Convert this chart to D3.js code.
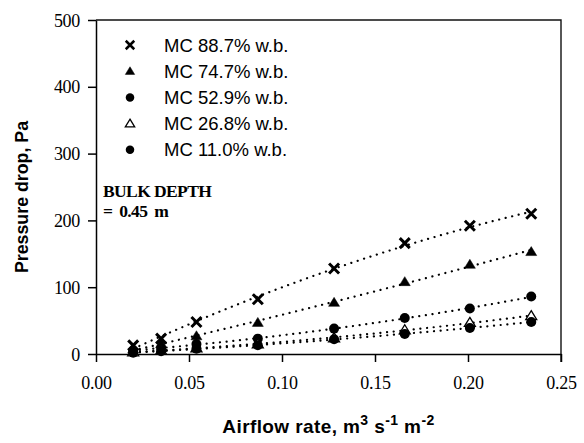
<!DOCTYPE html>
<html>
<head>
<meta charset="utf-8">
<script src="https://cdn.jsdelivr.net/npm/d3@7/dist/d3.min.js"></script>
<style>
  html, body { margin: 0; padding: 0; background: #fff; }
  svg { display: block; }
</style>
</head>
<body>
<svg id="chart" width="584" height="443"></svg>
<script>
// Airflow rate (m3 s-1 m-2) at which pressure drop was measured
const airflow = [0.020, 0.035, 0.054, 0.087, 0.128, 0.166, 0.201, 0.234];

// Pressure drop (Pa) for each moisture content
const mc887 = [13, 23, 48, 82, 128, 166, 192, 210];
const mc747 = [7, 15, 27, 47, 77, 108, 134, 153];
const mc529 = [5, 9, 15, 23, 38, 54, 68, 86];
const mc268 = [3, 5, 9, 15, 24, 36, 47, 57];
const mc110 = [2, 4, 8, 13, 22, 30, 39, 48];

const seriesNames = ["MC 88.7% w.b.", "MC 74.7% w.b.", "MC 52.9% w.b.", "MC 26.8% w.b.", "MC 11.0% w.b."];
const seriesValues = [mc887, mc747, mc529, mc268, mc110];
const seriesSymbols = ["cross", "triFilled", "circle", "triOpen", "circle"];

const xTicks = [0.00, 0.05, 0.10, 0.15, 0.20, 0.25];
const yTicks = [0, 100, 200, 300, 400, 500];

const svg = d3.select("#chart");
const mLeft = 96, mRight = 561, mTop = 20, mBottom = 354;

const x = d3.scaleLinear().domain([0, 0.25]).range([mLeft, mRight]);
const y = d3.scaleLinear().domain([0, 500]).range([mBottom, mTop]);

const serif = "'Times New Roman', 'Liberation Serif', serif";
const sans = "Arial, 'Liberation Sans', sans-serif";

// Frame: top and right edges
svg.append("path")
  .attr("d", `M${mLeft},${mTop}H${mRight}V${mBottom + 8}`)
  .attr("fill", "none").attr("stroke", "#111").attr("stroke-width", 1.4);

// Axes
const xAxis = svg.append("g")
  .attr("transform", `translate(0,${mBottom})`)
  .call(d3.axisBottom(x).tickValues(xTicks).tickFormat(d3.format(".2f")).tickSize(8).tickSizeOuter(0));
const yAxis = svg.append("g")
  .attr("transform", `translate(${mLeft},0)`)
  .call(d3.axisLeft(y).tickValues(yTicks).tickFormat(d3.format("d")).tickSize(8).tickSizeOuter(0));

[xAxis, yAxis].forEach(g => {
  g.select(".domain").attr("stroke", "#000").attr("stroke-width", 1.5);
  g.selectAll(".tick line").attr("stroke", "#000").attr("stroke-width", 1.5);
  g.selectAll(".tick text")
    .attr("fill", "#000")
    .style("font-family", serif)
    .style("font-size", "18px")
    .style("letter-spacing", "-0.3px");
});
xAxis.selectAll(".tick text").attr("y", 35).attr("dy", null);
yAxis.selectAll(".tick text").attr("x", -16).attr("dy", "0.34em");

// Least-squares quadratic trend for each series
function quadFit(xs, ys) {
  const s = [0, 0, 0, 0, 0], t = [0, 0, 0];
  xs.forEach((xi, i) => {
    for (let k = 0; k < 5; k++) s[k] += xi ** k;
    for (let k = 0; k < 3; k++) t[k] += ys[i] * xi ** k;
  });
  const m = [
    [s[0], s[1], s[2], t[0]],
    [s[1], s[2], s[3], t[1]],
    [s[2], s[3], s[4], t[2]]
  ];
  for (let c = 0; c < 3; c++) {
    let p = c;
    for (let r = c + 1; r < 3; r++) if (Math.abs(m[r][c]) > Math.abs(m[p][c])) p = r;
    [m[c], m[p]] = [m[p], m[c]];
    for (let r = 0; r < 3; r++) {
      if (r === c) continue;
      const f = m[r][c] / m[c][c];
      for (let k = c; k < 4; k++) m[r][k] -= f * m[c][k];
    }
  }
  const coef = m.map((row, i) => row[3] / row[i]);
  return v => coef[0] + coef[1] * v + coef[2] * v * v;
}

const plot = svg.append("g");
const trend = d3.line().x(d => x(d[0])).y(d => y(d[1]));

seriesValues.forEach(vals => {
  const f = quadFit(airflow, vals);
  const x0 = d3.min(airflow), x1 = d3.max(airflow);
  const pts = d3.range(0, 41).map(k => {
    const v = x0 + (x1 - x0) * k / 40;
    return [v, f(v)];
  });
  plot.append("path")
    .attr("d", trend(pts))
    .attr("fill", "none")
    .attr("stroke", "#000")
    .attr("stroke-width", 2.2)
    .attr("stroke-linecap", "round")
    .attr("stroke-dasharray", "0.1,6.6");
});

function drawSymbol(g, type, cx, cy, s) {
  if (type === "cross") {
    const h = s / 2;
    g.append("path")
      .attr("d", `M${cx - h},${cy - h}L${cx + h},${cy + h}M${cx - h},${cy + h}L${cx + h},${cy - h}`)
      .attr("stroke", "#000").attr("stroke-width", s * 0.3).attr("fill", "none");
  } else if (type === "circle") {
    g.append("circle").attr("cx", cx).attr("cy", cy).attr("r", s / 2).attr("fill", "#000");
  } else {
    const h = s * 0.9;
    const w = s * 0.55;
    const d = `M${cx},${cy - h * 0.58}L${cx + w},${cy + h * 0.42}L${cx - w},${cy + h * 0.42}Z`;
    g.append("path").attr("d", d)
      .attr("fill", type === "triFilled" ? "#000" : "#fff")
      .attr("stroke", "#000")
      .attr("stroke-width", type === "triFilled" ? 0.5 : 1.3);
  }
}

seriesValues.forEach((vals, si) => {
  const g = plot.append("g");
  vals.forEach((v, i) => drawSymbol(g, seriesSymbols[si], x(airflow[i]), y(v), 10));
});

// Legend
const legend = svg.append("g");
seriesNames.forEach((name, i) => {
  const cy = 45 + i * 26.2;
  drawSymbol(legend, seriesSymbols[i], 130, cy, 8.5);
  legend.append("text")
    .attr("x", 164).attr("y", cy).attr("dy", "0.36em")
    .style("font-family", sans).style("font-size", "18.5px")
    .attr("fill", "#000")
    .text(name);
});

// Bed depth note
const note = svg.append("g")
  .style("font-family", serif).style("font-weight", "bold").style("font-size", "17.5px")
  .style("letter-spacing", "-0.6px");
note.append("text").attr("x", 103).attr("y", 197).text("BULK DEPTH");
note.append("text").attr("x", 103).attr("y", 217).style("word-spacing", "3px").text("= 0.45 m");

// Axis titles
svg.append("text")
  .attr("transform", `translate(28,${(mTop + mBottom) / 2 + 10}) rotate(-90)`)
  .attr("text-anchor", "middle")
  .style("font-family", sans).style("font-weight", "bold").style("font-size", "17.8px")
  .text("Pressure drop, Pa");

const xTitle = svg.append("text")
  .attr("x", (mLeft + mRight) / 2).attr("y", 433)
  .attr("text-anchor", "middle")
  .style("font-family", sans).style("font-weight", "bold").style("font-size", "19px")
  .style("letter-spacing", "0.4px");
xTitle.append("tspan").text("Airflow rate, m");
xTitle.append("tspan").attr("dy", -8).style("font-size", "14px").text("3");
xTitle.append("tspan").attr("dy", 8).text(" s");
xTitle.append("tspan").attr("dy", -8).style("font-size", "14px").text("-1");
xTitle.append("tspan").attr("dy", 8).text(" m");
xTitle.append("tspan").attr("dy", -8).style("font-size", "14px").text("-2");
</script>
</body>
</html>
